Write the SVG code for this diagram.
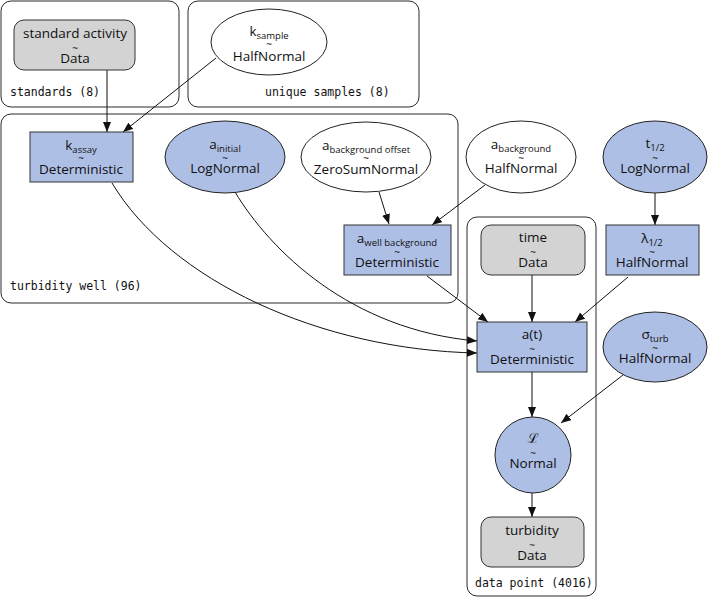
<svg xmlns="http://www.w3.org/2000/svg" width="709" height="597" viewBox="0 0 709 597">
<style>
.cl{fill:none;stroke:#2a2a2a;stroke-width:1}
.cll{font-family:"DejaVu Sans Mono","Liberation Mono",monospace;font-size:11.5px;fill:#111}
.det{fill:#aebfe6;stroke:#333;stroke-width:1}
.rv{fill:#aebfe6;stroke:#222;stroke-width:1}
.fr{fill:#fff;stroke:#222;stroke-width:1}
.dat{fill:#d3d3d3;stroke:#333;stroke-width:1}
text{font-family:"Open Sans","Noto Sans",sans-serif;fill:#111}
.m{font-size:13.5px;text-anchor:middle}
.s{font-size:9.5px}
.t{font-size:10px;text-anchor:middle}
.e{fill:none;stroke:#111;stroke-width:1}
</style>
<defs>
<marker id="ah" markerUnits="userSpaceOnUse" markerWidth="11" markerHeight="9" refX="10" refY="4" orient="auto">
<path d="M0,0 L10,4 L0,8 Z" fill="#111"/>
</marker>
</defs>

<g id="clusters">
<rect class="cl" x="1" y="1" width="178" height="106" rx="10"/>
<text class="cll" x="10" y="96">standards (8)</text>
<rect class="cl" x="188" y="1" width="231" height="106" rx="10"/>
<text class="cll" x="265" y="96">unique samples (8)</text>
<rect class="cl" x="1" y="114" width="457" height="189" rx="10"/>
<text class="cll" x="10" y="290">turbidity well (96)</text>
<rect class="cl" x="467" y="217" width="129" height="379" rx="10"/>
<text class="cll" x="475" y="587">data point (4016)</text>
</g>

<g id="edges">
<path class="e" d="M107,70 L107,132" marker-end="url(#ah)"/>
<path class="e" d="M216,58 L123,132" marker-end="url(#ah)"/>
<path class="e" d="M379,192 L389,224" marker-end="url(#ah)"/>
<path class="e" d="M485,185 L432,225" marker-end="url(#ah)"/>
<path class="e" d="M655,193 L655,225" marker-end="url(#ah)"/>
<path class="e" d="M112,183 C170,280 320,350 477,353" marker-end="url(#ah)"/>
<path class="e" d="M235,192 C270,250 350,330 477,341" marker-end="url(#ah)"/>
<path class="e" d="M427,276 L488,322" marker-end="url(#ah)"/>
<path class="e" d="M532,275 L532,322" marker-end="url(#ah)"/>
<path class="e" d="M628,277 L575,322" marker-end="url(#ah)"/>
<path class="e" d="M532,372 L532,417" marker-end="url(#ah)"/>
<path class="e" d="M623,375 L561,423" marker-end="url(#ah)"/>
<path class="e" d="M532,493 L532,517" marker-end="url(#ah)"/>
</g>

<g id="standard_activity">
<rect class="dat" x="14" y="20" width="121" height="50" rx="10"/>
<text class="m" x="75" y="38">standard activity</text>
<text class="t" x="75" y="52">~</text>
<text class="m" x="75" y="63">Data</text>
</g>

<g id="k_sample">
<ellipse class="fr" cx="269" cy="42" rx="58" ry="33"/>
<text class="m" x="269" y="36">k<tspan class="s" dy="3">sample</tspan></text>
<text class="t" x="269" y="48">~</text>
<text class="m" x="269" y="61">HalfNormal</text>
</g>

<g id="k_assay">
<rect class="det" x="30" y="132" width="103" height="50"/>
<text class="m" x="81" y="150">k<tspan class="s" dy="3">assay</tspan></text>
<text class="t" x="81" y="162">~</text>
<text class="m" x="81" y="174">Deterministic</text>
</g>

<g id="a_initial">
<ellipse class="rv" cx="225" cy="157" rx="60" ry="36"/>
<text class="m" x="225" y="149">a<tspan class="s" dy="3">initial</tspan></text>
<text class="t" x="225" y="162">~</text>
<text class="m" x="225" y="173">LogNormal</text>
</g>

<g id="a_background_offset">
<ellipse class="fr" cx="366" cy="157" rx="65" ry="35"/>
<text class="m" x="366" y="150">a<tspan class="s" dy="3">background offset</tspan></text>
<text class="t" x="366" y="162">~</text>
<text class="m" x="366" y="174">ZeroSumNormal</text>
</g>

<g id="a_background">
<ellipse class="fr" cx="521" cy="157" rx="55" ry="36"/>
<text class="m" x="521" y="149">a<tspan class="s" dy="3">background</tspan></text>
<text class="t" x="521" y="162">~</text>
<text class="m" x="521" y="173">HalfNormal</text>
</g>

<g id="t_half">
<ellipse class="rv" cx="655" cy="157" rx="52" ry="36"/>
<text class="m" x="655" y="148">t<tspan class="s" dy="3">1/2</tspan></text>
<text class="t" x="655" y="162">~</text>
<text class="m" x="655" y="173">LogNormal</text>
</g>

<g id="a_well_background">
<rect class="det" x="344" y="225" width="107" height="50"/>
<text class="m" x="397" y="243">a<tspan class="s" dy="3">well background</tspan></text>
<text class="t" x="397" y="256">~</text>
<text class="m" x="397" y="267">Deterministic</text>
</g>

<g id="time">
<rect class="dat" x="481" y="225" width="104" height="50" rx="10"/>
<text class="m" x="533" y="242">time</text>
<text class="t" x="533" y="256">~</text>
<text class="m" x="533" y="267">Data</text>
</g>

<g id="lambda_half">
<rect class="det" x="606" y="225" width="93" height="50"/>
<text class="m" x="652" y="243">λ<tspan class="s" dy="3">1/2</tspan></text>
<text class="t" x="652" y="256">~</text>
<text class="m" x="652" y="267">HalfNormal</text>
</g>

<g id="a_t">
<rect class="det" x="477" y="322" width="110" height="50"/>
<text class="m" x="532" y="339">a(t)</text>
<text class="t" x="532" y="353">~</text>
<text class="m" x="532" y="364">Deterministic</text>
</g>

<g id="sigma_turb">
<ellipse class="rv" cx="655" cy="347" rx="52" ry="35"/>
<text class="m" x="655" y="339">σ<tspan class="s" dy="3">turb</tspan></text>
<text class="t" x="655" y="352">~</text>
<text class="m" x="655" y="363">HalfNormal</text>
</g>

<g id="likelihood">
<circle class="rv" cx="533" cy="455" r="38"/>
<text class="m" x="533" y="443" font-style="italic">ℒ</text>
<text class="t" x="533" y="457">~</text>
<text class="m" x="533" y="468">Normal</text>
</g>

<g id="turbidity">
<rect class="dat" x="481" y="517" width="103" height="50" rx="10"/>
<text class="m" x="532" y="535">turbidity</text>
<text class="t" x="532" y="549">~</text>
<text class="m" x="532" y="560">Data</text>
</g>
</svg>
